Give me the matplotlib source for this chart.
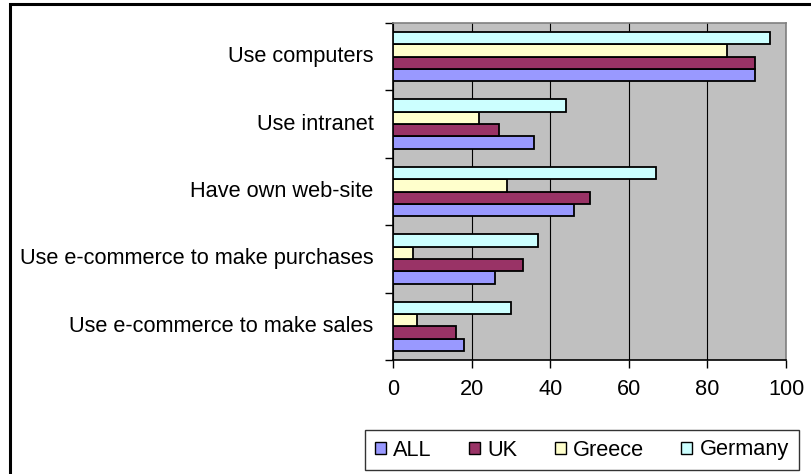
import matplotlib.pyplot as plt
import numpy as np
from matplotlib.patches import Rectangle

plt.rcParams["font.family"] = "Liberation Sans"

# categories listed top to bottom
categories = ["Use computers", "Use intranet", "Have own web-site",
              "Use e-commerce to make purchases", "Use e-commerce to make sales"]
series_names = ["ALL", "UK", "Greece", "Germany"]
all_vals = [92, 36, 46, 26, 18]
uk_vals = [92, 27, 50, 33, 16]
greece_vals = [85, 22, 29, 5, 6]
germany_vals = [96, 44, 67, 37, 30]
xticks = [0, 20, 40, 60, 80, 100]

colors = ["#9999FF", "#993366", "#FFFFCC", "#CCFFFF"]
fontSize = 15.7

fig = plt.figure(figsize=(8.11, 4.74), dpi=100)
ax = fig.add_axes([393 / 811, 1 - 360 / 474, 393 / 811, 337 / 474])
ax.set_facecolor("#C0C0C0")

n = len(categories)
pos = np.arange(n)[::-1]  # first category at the top
barH = 0.183
values = [all_vals, uk_vals, greece_vals, germany_vals]
for k, (name, vals) in enumerate(zip(series_names, values)):
    offset = (k - 1.5) * barH
    ax.barh(pos + offset, vals, height=barH, color=colors[k], edgecolor="black",
            linewidth=1.3, label=name, zorder=3)

ax.set_xlim(0, 100)
ax.set_ylim(-0.5, n - 0.5)
ax.set_xticks(xticks)
ax.set_xticklabels([str(v) for v in xticks], fontsize=fontSize)
ax.xaxis.grid(True, color="black", linewidth=0.8, zorder=1)
ax.set_axisbelow(True)

# category labels at group centres, tick marks at group boundaries
ax.set_yticks(pos)
ax.set_yticklabels(categories, fontsize=fontSize, va="center")
ax.tick_params(axis="y", length=0, pad=14)
ax.set_yticks(np.arange(n + 1) - 0.5, minor=True)
ax.tick_params(axis="y", which="minor", length=6, width=1, color="black")
ax.tick_params(axis="x", length=6, width=1, pad=8)

ax.spines["left"].set_color("black")
ax.spines["bottom"].set_color("black")
ax.spines["top"].set_color("#808080")
ax.spines["right"].set_color("#808080")
for s in ax.spines.values():
    s.set_linewidth(1.2)

leg = fig.legend(loc="center", bbox_to_anchor=(582 / 811, 1 - 450 / 474),
                 ncol=4, frameon=True, fancybox=False,
                 fontsize=fontSize, handlelength=0.5, handleheight=0.5,
                 handletextpad=0.35, borderpad=0.45, columnspacing=1.7)
leg.get_frame().set_edgecolor("black")
leg.get_frame().set_linewidth(1)
for h in leg.legend_handles:
    h.set_linewidth(1)

# outer chart border
fig.patches.append(Rectangle((10 / 811, -0.1), 1.2, 1 - 4 / 474 + 0.1,
                             transform=fig.transFigure, fill=False,
                             edgecolor="black", linewidth=2.2))

fig.savefig("out.png", dpi=100)
